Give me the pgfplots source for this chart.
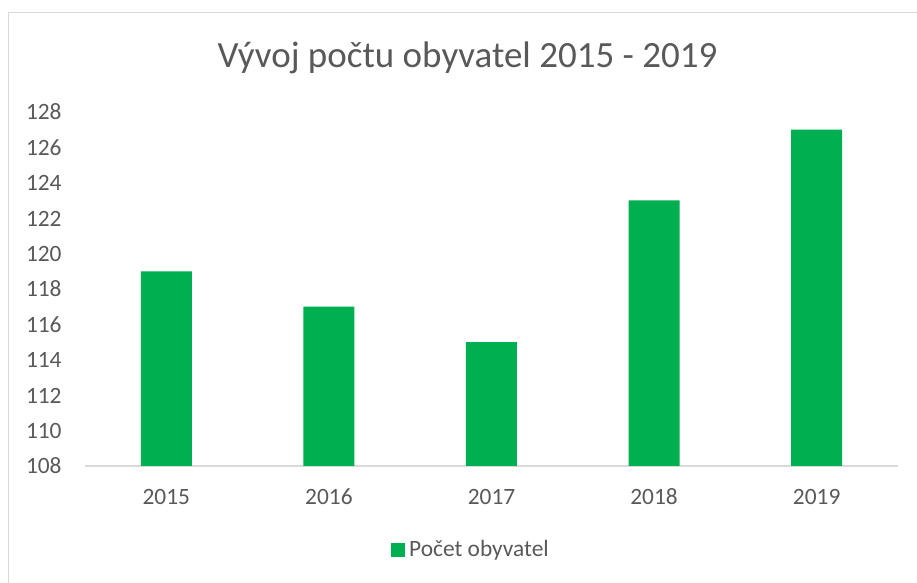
\documentclass[border=0pt]{standalone}
\usepackage{pgfplots}
\pgfplotsset{compat=1.18}
\usepackage{fontspec}
\setmainfont{Carlito}
\definecolor{barg}{HTML}{00B050}
\definecolor{txt}{HTML}{595959}
\definecolor{lgray}{HTML}{D9D9D9}
\begin{document}
\begin{tikzpicture}
\useasboundingbox (-42.5pt,-58.5pt) rectangle (416pt,233pt);
\draw[lgray, line width=0.6pt] (-38.25pt,-70pt) -- (-38.25pt,226.75pt) -- (430pt,226.75pt);
\node[anchor=base, text=txt, font=\fontsize{18.5}{22}\selectfont, inner sep=0pt] at (191.25pt,199pt) {Vývoj počtu obyvatel 2015 - 2019};
\begin{axis}[
  at={(0pt,0pt)}, anchor=south west,
  scale only axis, width=406.5pt, height=177pt,
  xmin=-0.5, xmax=4.5, ymin=108, ymax=128,
  ytick={108,110,...,128},
  xtick=data, xticklabels={2015,2016,2017,2018,2019},
  axis x line*=bottom, axis y line*=left,
  x axis line style={draw=lgray, line width=0.8pt},
  y axis line style={draw=none},
  tick style={draw=none}, major tick length=0pt,
  /pgf/number format/assume math mode=true,
  /pgf/number format/1000 sep={},
  ticklabel style={text=txt, font=\fontsize{11.7}{14}\selectfont, inner sep=0pt},
  yticklabel style={anchor=east, xshift=-11.5pt, text height=8pt, text depth=0pt},
  xticklabel style={anchor=base, yshift=-19.5pt},
  ybar, bar width=25.5pt,
  legend style={at={(0.476,-0.237)}, anchor=center, draw=none, fill=none,
    font=\fontsize{11.7}{14}\selectfont, text=txt, inner sep=0pt},
  legend image code/.code={\fill[barg] (0pt,-3.5pt) rectangle (7pt,3.5pt);},
]
\addplot[fill=barg, draw=none, bar shift=0pt] coordinates {(0,119) (1,117) (2,115) (3,123) (4,127)};
\addlegendentry{Počet obyvatel}
\end{axis}
\end{tikzpicture}
\end{document}
